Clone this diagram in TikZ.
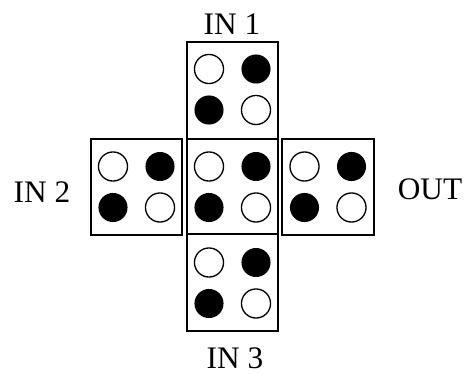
\documentclass[tikz,border=0pt]{standalone}
\usepackage{fontspec}
\setmainfont{Liberation Serif}
\usepackage{tikz}

\tikzset{
  hole/.style={draw,line width=1pt,fill=white},
  peg/.style={fill=black},
  lbl/.style={font=\fontsize{23.5}{28}\selectfont,inner sep=0pt}
}

\begin{document}
\begin{tikzpicture}[x=0.75pt,y=-0.75pt]
\useasboundingbox (0,0) rectangle (466,374);
% the cross of cells
\draw[line width=1.5pt] (187,42) rectangle (278,331);
\draw[line width=1.5pt] (187,139) -- (278,139);
\draw[line width=1.5pt] (187,234) -- (278,234);
\draw[line width=1.5pt] (91,139) rectangle (182,235);
\draw[line width=1.5pt] (282,139) rectangle (374,235);
% pegs in each cell
\foreach \cx/\cy in {232.5/89.5, 136.5/187, 232.5/187, 328/187, 232.5/283}{
  \draw[hole] (\cx-23.5,\cy-20.5) circle[radius=10.9pt];
  \fill[peg] (\cx+23.5,\cy-20.5) circle[radius=10.9pt];
  \fill[peg] (\cx-23.5,\cy+20.5) circle[radius=10.9pt];
  \draw[hole] (\cx+23.5,\cy+20.5) circle[radius=10.9pt];
}
\node[lbl] (in1) at (232,24) {IN 1};
\node[lbl] (in2) at (42,192) {IN 2};
\node[lbl] (out) at (430,189) {OUT};
\node[lbl] (in3) at (235,358) {IN 3};
\end{tikzpicture}
\end{document}
